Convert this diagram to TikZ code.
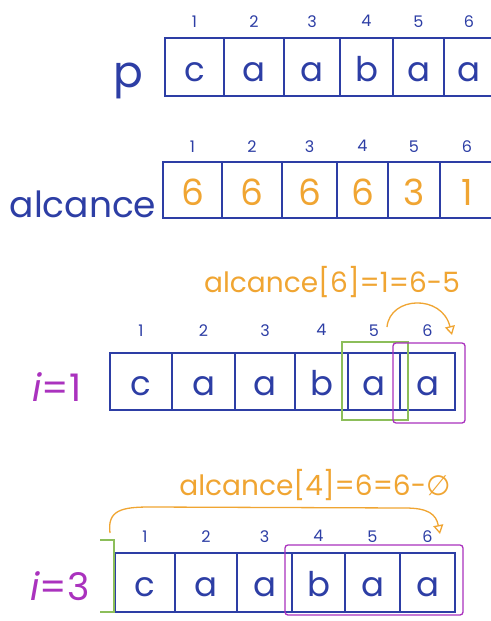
\documentclass[tikz,border=0pt]{standalone}
\usepackage{fontspec}
\setmainfont{Poppins}
\newfontfamily\dejavu{DejaVu Sans}
\usetikzlibrary{arrows.meta,calc}
\definecolor{inkblue}{RGB}{45,62,165}
\definecolor{inkorange}{RGB}{240,165,50}
\definecolor{inkmagenta}{RGB}{170,50,190}
\definecolor{inkgreen}{RGB}{140,190,90}
\begin{document}
\begin{tikzpicture}[x=1pt,y=-1pt,
  cell/.style={draw=inkblue, line width=1.5pt, inner sep=0pt, text=inkblue,
    font=\fontsize{34}{34}\selectfont, text height=28pt, text depth=0pt},
  valcell/.style={draw=inkblue, line width=1.5pt, inner sep=0pt, text=inkorange,
    font=\fontsize{36}{36}\selectfont, text height=31pt, text depth=0pt},
  idx/.style={text=inkblue, font=\fontsize{16}{16}\selectfont, inner sep=0pt},
  biglabel/.style={text=inkblue, font=\fontsize{44}{44}\selectfont, inner sep=0pt, anchor=base},
  ilabel/.style={text=inkmagenta, font=\fontsize{38}{38}\selectfont, inner sep=0pt, anchor=base},
  note/.style={text=inkorange, font=\fontsize{28}{28}\selectfont, inner sep=0pt, anchor=base},
  arc/.style={draw=inkorange, line width=1.3pt, -{Triangle[open, length=9pt, width=10pt]}},
  winmag/.style={draw=inkmagenta, line width=1.3pt, rounded corners=3pt},
  wingreen/.style={draw=inkgreen, line width=1.2pt}
]
\useasboundingbox[fill=white] (0,0) rectangle (490,621);

% ---------- p ----------
\foreach \x/\w/\t [count=\i] in {194.5/59/c, 254/60/a, 312/56/a, 366.5/53/b, 418.5/51/a, 469/50/a}{
  \node[cell, minimum width=\w pt, minimum height=58pt] (p\i) at (\x,67) {\t};
  \node[idx] (pi\i) at ($(p\i.north)+(0,-16)$) {\i};
}
\node[biglabel] (plbl) at (128,87) {p};

% ---------- alcance ----------
\foreach \x/\w/\t [count=\i] in {192.5/59/6, 252/60/6, 309.5/55/6, 362.5/51/6, 414/52/3, 467/54/1}{
  \node[valcell, minimum width=\w pt, minimum height=56pt] (al\i) at (\x,190) {\t};
  \node[idx] (ali\i) at ($(al\i.north)+(0,-15)$) {\i};
}
\node[biglabel, font=\fontsize{36}{36}\selectfont] (allbl) at (83,217) {alcance};

% ---------- i = 1 ----------
\node[note] (n1) at (332,292) {alcance[6]=1=6-5};
\foreach \x/\w/\t [count=\i] in {141/62/c, 203.5/63/a, 265/60/a, 321.5/53/b, 374/52/a, 427.5/55/a}{
  \node[cell, minimum width=\w pt, minimum height=57pt] (a\i) at (\x,381.5) {\t};
  \node[idx] (ai\i) at ($(a\i.north)+(0,-22)$) {\i};
}
\node[ilabel] (i1) at (57,401) {$\mathit{i}$=1};
\draw[wingreen] (342,342) rectangle (408,420);
\draw[winmag] (393,343) rectangle (465,423);
\coordinate (s1) at (387,327);
\coordinate (e1) at (452,335);
\draw[arc] (s1) .. controls (390,296) and (442,294) .. (e1);

% ---------- i = 3 ----------
\node[note] (n3) at (315,495) {alcance[4]=6=6-{\dejavu ∅}};
\foreach \x/\w/\t [count=\i] in {145/60/c, 206/62/a, 264.5/55/a, 318.5/53/b, 372.5/55/a, 427.5/55/a}{
  \node[cell, minimum width=\w pt, minimum height=59pt] (b\i) at (\x,582.5) {\t};
  \node[idx] (bi\i) at ($(b\i.north)+(0,-16)$) {\i};
}
\node[ilabel] (i3) at (60,600) {$\mathit{i}$=3};
\draw[wingreen] (100,540) -- (114,540) -- (114,612) -- (100,612);
\draw[winmag] (285,545) rectangle (463,615);
\coordinate (s3) at (110,533);
\coordinate (e3) at (440,534);
\draw[arc] (s3) .. controls (107,510) and (122,507) .. (150,507) -- (405,508) .. controls (428,508) and (436,514) .. (e3);
\end{tikzpicture}
\end{document}
